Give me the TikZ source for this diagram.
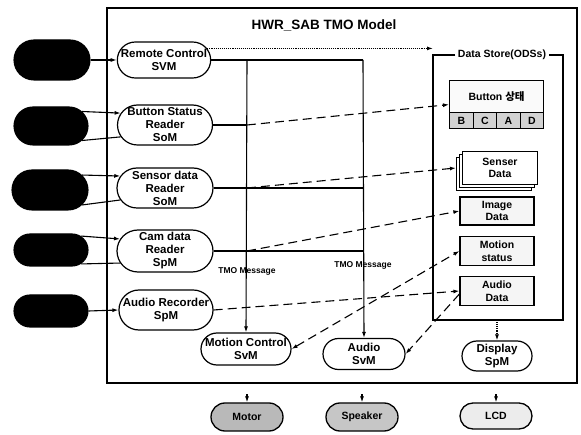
\documentclass[tikz,border=0pt]{standalone}
\usepackage{fontspec}
\setmainfont{Liberation Sans}
\newfontfamily\kofont{Noto Sans CJK KR}
\usepackage{tikz}
\usetikzlibrary{arrows.meta, positioning, shapes.misc, shadows}

\tikzset{
    modpill/.style={rounded rectangle, draw, line width=1.2pt, fill=white, inner sep=0pt, align=center, font=\bfseries\fontsize{11.5}{13}\selectfont},
    extpill/.style={rounded rectangle, draw, fill=black, inner sep=0pt},
    devpill/.style={rounded rectangle, draw, line width=1.3pt, inner sep=0pt, minimum width=72pt, minimum height=28pt, font=\bfseries\fontsize{10.5}{12}\selectfont},
    databox/.style={rectangle, draw, line width=1.2pt, fill=gray!8, inner sep=0pt, align=center, font=\bfseries\fontsize{10.5}{12.5}\selectfont},
    sigarrow/.style={-{Latex[length=6pt,width=4pt]}},
    flow/.style={sigarrow, dash pattern=on 9pt off 5pt},
    biflow/.style={{Latex[length=6pt,width=4pt]}-{Latex[length=6pt,width=4pt]}, dash pattern=on 9pt off 5pt},
}

\begin{document}
\begin{tikzpicture}[x=1pt, y=-1pt, line width=1.1pt]
    \useasboundingbox (0,0) rectangle (581,435);
    % TMO model frame
    \draw[line width=1.3pt] (107,8) rectangle (577,383);
    \node[font=\bfseries\fontsize{13.5}{15}\selectfont] (title) at (324,25) {HWR\_SAB TMO Model};

    % external devices
    \foreach \n/\x/\y/\w/\h in {e1/52/60/76/40, e2/51/126/74/38, e3/50/190/76/40, e4/51/250/74/32, e5/51/311/74/32}
        \node[extpill, minimum width=\w pt, minimum height=\h pt] (\n) at (\x,\y) {};

    % methods
    \node[modpill, minimum width=92pt, minimum height=36pt] (rc) at (164,60) {Remote Control\\SVM};
    \node[modpill, minimum width=95pt, minimum height=40pt] (bs) at (165,125) {Button Status\\Reader\\SoM};
    \node[modpill, minimum width=96pt, minimum height=40pt] (sd) at (165,188) {Sensor data\\Reader\\SoM};
    \node[modpill, minimum width=96pt, minimum height=42pt] (cd) at (165,251) {Cam data\\Reader\\SpM};
    \node[modpill, minimum width=92pt, minimum height=40pt] (ar) at (166,310) {Audio Recorder\\SpM};
    \node[modpill, minimum width=88pt, minimum height=32pt] (mc) at (246,349) {Motion Control\\SvM};
    \node[modpill, minimum width=82pt, minimum height=31pt] (au) at (364,354) {Audio\\SvM};
    \node[modpill, minimum width=70pt, minimum height=30pt] (dp) at (497,356) {Display\\SpM};

    % data store
    \node[font=\bfseries\fontsize{10.5}{12}\selectfont, inner sep=2pt] (dst) at (502,55) {Data Store(ODSs)};
    \coordinate (dsnw) at (433,55);
    \coordinate (dsse) at (563,320);
    \draw[line width=2.4pt] (dst.west) -- (dsnw) -- (dsnw |- dsse) -- (dsse) -- (dsse |- dsnw) -- (dst.east);
    \node[databox, fill=gray!4, minimum width=94pt, minimum height=32pt, anchor=north west] (btn) at (449,80) {Button {\kofont\bfseries 상태}};
    \foreach \c [count=\i from 0] in {B,C,A,D}
        \node[databox, fill=gray!35, minimum width=23.5pt, minimum height=16pt, anchor=north west] (cell\c) at (449+23.5*\i,112) {\c};
    \node[databox, fill=white, minimum width=75pt, minimum height=33pt, double copy shadow={shadow xshift=-3pt, shadow yshift=-3pt}] (sens) at (500,168) {Senser\\Data};
    \node[databox, minimum width=74pt, minimum height=28pt] (img) at (497,211) {Image\\Data};
    \node[databox, minimum width=74pt, minimum height=29pt] (ms) at (497,251) {Motion\\status};
    \node[databox, minimum width=74pt, minimum height=29pt] (aud) at (497,291) {Audio\\Data};

    % output devices
    \node[devpill, fill=gray!55] (mo) at (247,417) {Motor};
    \node[devpill, fill=gray!45] (spk) at (362,417) {Speaker};
    \node[devpill, fill=gray!15, minimum height=26pt] (lcd) at (496,416) {LCD};
    \foreach \d in {mo, spk, lcd}
        \draw[sigarrow] ([yshift=8pt]\d.north) -- (\d.north);

    % inputs
    \draw[sigarrow] (e1.east) -- (rc.west);
    \foreach \e/\m in {e2/bs, e3/sd, e4/cd} {
        \draw[sigarrow] (\e.25) -- (\m.165);
        \draw (\e.-25) -- (\m.195);
    }
    \draw[sigarrow] (e5.east) -- (ar.west);

    % TMO message lines
    \coordinate (ta) at (247,60);
    \coordinate (tb) at (363,60);
    \draw (rc.east) -- (tb);
    \draw[sigarrow] (ta) -- (mc.north);
    \draw[sigarrow] (tb) -- (au.north);
    \draw (bs.east) -- (bs.east -| ta);
    \draw (sd.east) -- (sd.east -| tb);
    \draw (cd.east) -- (cd.east -| tb);
    \node[font=\bfseries\fontsize{8.5}{10}\selectfont] (tm1) at (247,271) {TMO Message};
    \node[font=\bfseries\fontsize{8.5}{10}\selectfont] (tm2) at (363,265) {TMO Message};

    % data flow
    \draw[densely dotted, sigarrow] (rc.15) -- (rc.15 -| dsnw);
    \draw[densely dotted, sigarrow] (dp.north |- dsse) -- (dp.north);
    \draw[flow] (bs.east -| ta) -- ([yshift=-8pt]btn.west);
    \draw[flow] (sd.east -| ta) -- ([xshift=-6pt]sens.west);
    \draw[flow] (cd.east -| ta) -- (img.west);
    \draw[flow] (ar.east) -- (aud.west);
    \draw[biflow] (mc.east) -- (ms.west);
    \draw[flow] ([yshift=-3pt]aud.west) -- (au.east);
\end{tikzpicture}
\end{document}
